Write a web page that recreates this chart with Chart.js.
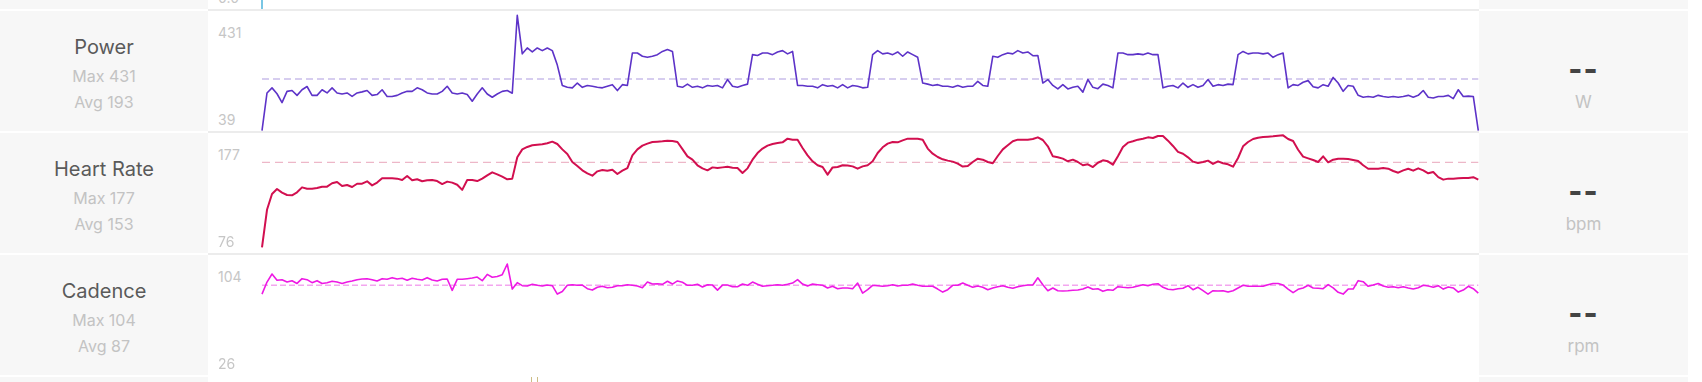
<!DOCTYPE html>
<html><head><meta charset="utf-8">
<script src="https://cdn.jsdelivr.net/npm/chart.js@4.4.0/dist/chart.umd.min.js"></script>
<style>
html,body{margin:0;padding:0;background:#fff;width:1702px;height:382px;overflow:hidden;font-family:Inter,"Noto Sans",sans-serif;}
#root{position:relative;width:1702px;height:382px;overflow:hidden;}
.panel{position:absolute;background:#f7f7f7;}
.sep{position:absolute;left:208px;width:1271px;height:2px;background:#ececec;}
.txt{position:absolute;white-space:nowrap;text-align:center;}
.tick{position:absolute;left:218px;font-size:14px;color:#c6c6c6;height:16px;line-height:16px;}
canvas{position:absolute;}
</style></head>
<body><div id="root"></div>
<script>
// ---------- data ----------
const metricNames = ["Power", "Heart Rate", "Cadence"];
const metricMax   = [431, 177, 104];
const metricAvg   = [193, 153, 87];
const metricUnits = ["W", "bpm", "rpm"];
const tickTop     = ["431", "177", "104"];
const tickBottom  = ["39", "76", "26"];
const currentValue = ["--", "--", "--"];

const power = [0,141,160,138,105,147,150,132,153,165,132,132,153,141,160,141,137,141,128,141,145,150,132,135,153,128,128,132,141,147,147,160,153,141,137,137,147,166,141,137,141,135,110,137,
160,137,125,137,147,150,140,431,287,309,294,309,299,309,299,245,169,162,160,178,162,169,166,162,160,166,172,150,172,169,290,290,278,274,278,284,296,303,296,166,162,174,162,166,160,169,166,169,160,191,166,
162,169,174,284,281,290,290,284,294,299,287,296,169,169,166,166,160,172,166,169,160,172,160,169,166,160,162,284,299,287,290,284,294,278,294,284,274,178,174,169,172,166,166,162,169,162,166,166,184,169,
166,278,274,284,290,287,299,290,294,280,281,178,191,169,156,172,156,162,166,144,191,162,157,174,169,160,290,290,284,284,287,284,290,284,284,160,166,169,160,178,162,172,162,169,191,166,172,169,174,172,284,296,
287,290,290,287,290,274,284,290,160,172,169,181,187,164,160,172,166,199,178,147,169,166,132,125,128,125,132,128,125,128,125,128,132,125,132,150,125,122,128,128,132,120,153,128,129,128,0];

const heartRate = [76,110,124.3,128.8,125.5,123.4,123.1,125.8,130.3,129.1,129.1,129.7,130.9,130.9,134,135.2,131.5,132.4,130.6,133.6,133.6,135.8,132.1,134.6,138.5,138.5,138.5,138.2,137,140.6,136.7,137.6,135.8,136.7,137,136,133.3,135.5,134.6,132.7,128,137,137,136,
138.2,141.2,143.9,142.1,140,137.6,138.2,157.5,164.7,166.9,168.4,169,169.3,170.2,171.7,169.6,164.7,160.5,153.3,149.7,145.7,143,140.9,144.8,146,145.4,146.3,142.4,145.4,147.8,159.3,164.7,168.1,169.9,171.4,171.7,172,172.6,172.3,171.4,165,158.4,155.4,150.3,147.5,145.7,148.4,147.8,148.4,149,148.1,
147.8,143.3,147.5,155.4,161.4,165.4,168.1,169.6,170.5,171.1,174.4,173.5,173.5,166,159.3,153.9,150.3,148.7,141.8,148.4,148.7,150.3,150,149.3,147.2,149.3,150.3,153.9,161.4,166.6,169.9,171.4,171.1,172.9,174.4,174.4,174.4,173.5,165.4,160.8,157.8,155.7,154.5,153.6,151.8,149.1,149.6,153.3,156.3,155.4,
153.3,152.1,158.7,164.7,168.4,172,173.5,173.5,173.5,174.1,175.6,173.2,167.5,158.4,157.5,156.3,153.9,155.4,153.3,150.3,151.2,148.7,152.6,154.8,153.9,150.9,158.4,166.9,170.8,172,173.5,174.4,175.6,175,176.8,176.8,172.6,167.8,162.4,160.8,157.5,153.6,152.4,153.3,154.5,151.5,153.9,152.1,151.2,149,156.9,167.5,
171.4,174.1,175.3,175.9,176.2,176.5,177.1,177.4,174.1,172.3,164.4,158.1,156.6,155.1,153.3,158.4,153,155.4,156.3,156.3,156,155.1,154.2,150.3,147.2,147.2,147.2,147.8,147.2,145.1,143.6,145.7,147.2,145.4,147.5,145.7,143,144.2,139.6,137.3,138.2,138.2,138.5,138.8,138.8,139.5,137.3];

const cadence = [80,89.6,96,91,91.5,89.6,90.7,88.5,92.3,91.5,89.1,90.7,88.5,89.1,90.2,89.6,88.5,89.6,90.5,91.5,92,92.3,91.5,90.5,92.3,91.8,93.1,92,92.6,91,92.6,91.8,91.2,93.1,91.2,90.5,91.8,92,83,91.8,91.8,92.3,92.8,93.6,
90.7,95.7,93.4,94,95.5,104,84,89.1,86.7,86.4,87.8,87,86.4,87.2,86.7,80,82,87,87.5,87,87.2,84.3,83.2,85.4,86.2,85.1,85.4,86.7,86.7,87.5,87,86.4,85.1,89.6,88,88.3,87.8,90.2,88,90.5,89.4,87,87,87.8,85.7,87.5,87.2,83.2,87.2,87.2,85.9,
85.9,88,87,89.6,87.8,86.2,86.7,87,87.5,87,87.8,88.8,91.5,88,86.4,88,87.5,87,84.9,86.2,84.3,84.9,84.9,84.3,88.8,80.8,83.5,87,86.7,86.2,86.7,87.5,86.4,87,87,88,87,86.2,86.2,86.2,84,81.6,83.5,87,87,88.8,87,85.4,86.4,85.4,
83.5,84.9,85.9,86.7,85.4,84.6,85.9,86.7,87.2,87.2,93,87.5,82.7,84.9,82.7,82.5,82.7,83,83.2,84,85.7,83.8,84.3,82.2,83.5,83,85.9,85.4,85.1,85.4,86.4,87.5,86.7,87.8,88.3,85.4,83.8,83.5,84.3,84.6,86.7,83.5,85.4,82.7,80,82.7,82.5,82.7,81.6,82.7,84.9,87,
86.2,86.2,86.2,86.2,87.5,88.5,88.5,87.2,84,81.1,83.8,84.9,87,84.9,84.6,84.3,87.5,84.9,81.4,80,84,84,90.7,89.9,86.2,87.2,88.5,86.4,85.4,85.9,85.1,85.9,84.9,84,85.1,87,86.4,85.4,86.7,84,85.7,84.9,81.6,83.2,86.2,84.3,80.8];

// ---------- styling ----------
const series = [power, heartRate, cadence];
const lineColors = ["#5d33c8", "#d20f4f", "#ee18e4"];
const lineWidths = [1.6, 2, 1.6];
const avgColors = ["#c9bdea", "#e9a6bb", "#f3a6ef"];
const avgWidths = [1.6, 1, 1.6];
const avgDash = [[7,4],[8,5],[6,3]];
const yRanges = [[-1.1, 447], [70.84, 179.54], [15.4, 111.2]];

const ROW0 = 11, PITCH = 122, ROWH = 120;
const root = document.getElementById('root');
function el(tag, cls, style, text){
  const e = document.createElement(tag);
  if (cls) e.className = cls;
  Object.assign(e.style, style);
  if (text !== undefined) e.textContent = text;
  root.appendChild(e);
  return e;
}
function text(t, cx, cy, w, size, color, weight, extra){
  const h = size + 6;
  const s = {left:(cx - w/2)+'px', top:(cy - h/2)+'px', width:w+'px', height:h+'px', lineHeight:h+'px', fontSize:size+'px', color:color, fontWeight:weight||400};
  Object.assign(s, extra||{});
  return el('div','txt',s,t);
}

// partial rows above and below
el('div','panel',{left:'0px',top:'0px',width:'208px',height:'9px'});
el('div','panel',{left:'1479px',top:'0px',width:'209px',height:'9px'});
el('div','panel',{left:'0px',top:'377px',width:'208px',height:'10px'});
el('div','panel',{left:'1479px',top:'377px',width:'209px',height:'10px'});
el('div','tick',{top:(ROW0 - PITCH + 109 - 8)+'px'}, "0.0");
el('div','',{position:'absolute',left:'261px',top:'0px',width:'1.5px',height:'9px',background:'#79c6e4'});
el('div','',{position:'absolute',left:'531px',top:'377px',width:'1px',height:'6px',background:'#cdbd86'});
el('div','',{position:'absolute',left:'537px',top:'377px',width:'1px',height:'6px',background:'#cdbd86'});

const avgPlugin = {
  id: 'avgLine',
  beforeDatasetsDraw(chart){
    const k = chart.options.plugins.avgLine.k;
    const {ctx, chartArea} = chart;
    const y = chart.scales.y.getPixelForValue(metricAvg[k]);
    ctx.save();
    ctx.strokeStyle = avgColors[k];
    ctx.lineWidth = avgWidths[k];
    ctx.setLineDash(avgDash[k]);
    ctx.beginPath();
    ctx.moveTo(chartArea.left, y);
    ctx.lineTo(chartArea.right, y);
    ctx.stroke();
    ctx.restore();
  }
};

for (let k = 0; k < 3; k++){
  const T = ROW0 + k*PITCH;
  el('div','sep',{top:(T-2)+'px'});
  el('div','panel',{left:'0px',top:T+'px',width:'208px',height:ROWH+'px'});
  el('div','panel',{left:'1479px',top:T+'px',width:'209px',height:ROWH+'px'});
  text(metricNames[k], 104, T+36, 208, 20, '#5a5a5a', 400);
  text('Max ' + metricMax[k], 104, T+64.5, 208, 16, '#c3c3c3', 400);
  text('Avg ' + metricAvg[k], 104, T+90.5, 208, 16, '#c3c3c3', 400);
  text(currentValue[k], 1583.5, T+58, 209, 30, '#444444', 800, {letterSpacing:'1px'});
  text(metricUnits[k], 1583.5, T+91, 209, 17, '#c3c3c3', 400);
  el('div','tick',{top:(T+22-8)+'px'}, tickTop[k]);
  el('div','tick',{top:(T+109-8)+'px'}, tickBottom[k]);

  const cv = document.createElement('canvas');
  const padL = 6, padR = 6.7, padT = 6, padB = 6;
  cv.width = 1229; cv.height = ROWH + padT + padB;
  cv.style.left = (262 - padL) + 'px';
  cv.style.top = (T - padT) + 'px';
  cv.style.width = cv.width + 'px';
  cv.style.height = cv.height + 'px';
  root.appendChild(cv);
  const pts = series[k].map((v, i) => ({x: i, y: v}));
  new Chart(cv.getContext('2d'), {
    type: 'line',
    data: { datasets: [{ data: pts, borderColor: lineColors[k], borderWidth: lineWidths[k], pointRadius: 0, tension: 0, fill: false, borderJoinStyle: 'round', clip: 8 }] },
    options: {
      responsive: false, animation: false, devicePixelRatio: 1,
      layout: { padding: { left: padL, right: padR, top: padT, bottom: padB } },
      scales: {
        x: { type: 'linear', min: 0, max: series[k].length - 1, display: false },
        y: { min: yRanges[k][0], max: yRanges[k][1], display: false }
      },
      plugins: { legend: { display: false }, tooltip: { enabled: false }, avgLine: { k: k } },
      events: []
    },
    plugins: [avgPlugin]
  });
}
</script>
</body></html>
